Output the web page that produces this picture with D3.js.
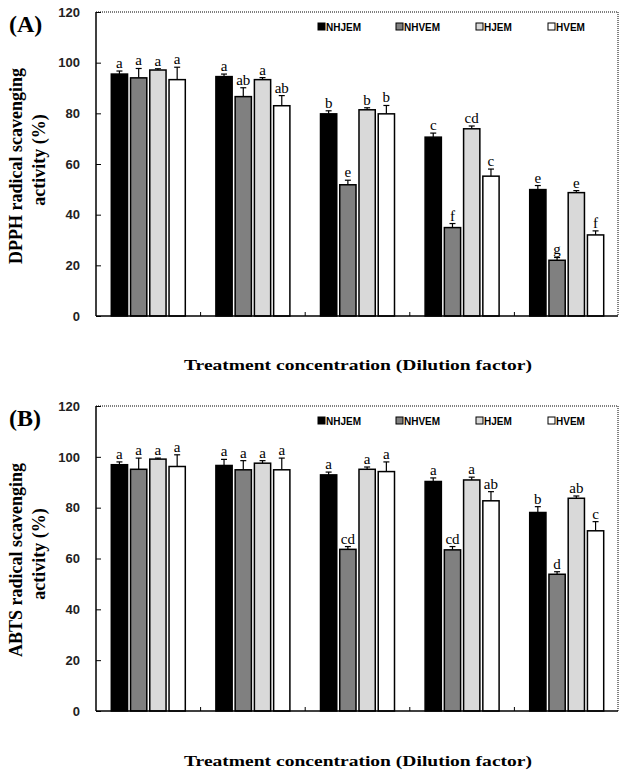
<!DOCTYPE html>
<html>
<head>
<meta charset="utf-8">
<script src="https://cdn.jsdelivr.net/npm/d3@7"></script>
<style>
	body{margin:0;background:#fff;}
	svg{display:block;}
</style>
</head>
<body>
<div id="chart"></div>
<script>
// groups = dilution steps (no tick labels in the figure)
var groups = ["d1","d2","d3","d4","d5"];
var series = ["NHJEM","NHVEM","HJEM","HVEM"];
var fills = ["#000000","#808080","#d9d9d9","#ffffff"];
var yTicks = [0,20,40,60,80,100,120];

// (A) DPPH
var dpphNHJEM = [95.5, 94.5, 79.8, 70.6, 49.9];
var dpphNHVEM = [94.0, 86.6, 51.8, 34.9, 22.0];
var dpphHJEM  = [97.1, 93.3, 81.4, 73.9, 48.7];
var dpphHVEM  = [93.3, 83.0, 79.8, 55.2, 32.0];
var dpphErrNHJEM = [1.2, 1.0, 1.2, 1.6, 1.6];
var dpphErrNHVEM = [3.7, 3.5, 1.8, 1.6, 1.1];
var dpphErrHJEM  = [0.5, 0.8, 0.8, 1.1, 0.8];
var dpphErrHVEM  = [4.9, 4.0, 3.3, 2.8, 1.6];
var dpphLetNHJEM = ["a","a","b","c","e"];
var dpphLetNHVEM = ["a","ab","e","f","g"];
var dpphLetHJEM  = ["a","a","b","cd","e"];
var dpphLetHVEM  = ["a","ab","b","c","f"];

// (B) ABTS
var abtsNHJEM = [96.9, 96.6, 92.9, 90.3, 78.1];
var abtsNHVEM = [95.1, 94.9, 63.6, 63.4, 53.8];
var abtsHJEM  = [99.1, 97.5, 95.1, 90.9, 83.7];
var abtsHVEM  = [96.2, 94.9, 94.2, 82.7, 70.9];
var abtsErrNHJEM = [1.1, 2.4, 1.1, 1.4, 2.3];
var abtsErrNHVEM = [4.4, 3.6, 1.1, 1.3, 1.0];
var abtsErrHJEM  = [0.4, 1.0, 0.9, 1.1, 0.9];
var abtsErrHVEM  = [4.6, 4.6, 3.8, 3.6, 3.6];
var abtsLetNHJEM = ["a","a","a","a","b"];
var abtsLetNHVEM = ["a","a","cd","cd","d"];
var abtsLetHJEM  = ["a","a","a","a","ab"];
var abtsLetHVEM  = ["a","a","a","ab","c"];

var W = 619, H = 773;
var serif = "'Liberation Serif','Times New Roman',serif";
var sans = "'Liberation Sans',Arial,sans-serif";

var svg = d3.select("#chart").append("svg:svg")
	.attr("width",W)
	.attr("height",H);

function panel(opt){
	var g = svg.append("g");
	var left = 96, right = 618, top = opt.top, bottom = opt.bottom;

	var x0 = d3.scaleBand().domain(groups).range([left, 619]);
	var bw = x0.bandwidth();
	var x1 = d3.scaleBand().domain(series)
		.range([bw/2 - 37, bw/2 + 37]).paddingInner(0.155);
	var y = d3.scaleLinear().domain([0,120]).range([bottom, top]);

	// dotted frame (top and right)
	g.append("path")
		.attr("d","M"+left+","+top+"H"+right+"V"+bottom)
		.attr("fill","none").attr("stroke","#000")
		.attr("stroke-width",1).attr("stroke-dasharray","1,1");

	var rows = [];
	series.forEach(function(s,i){
		groups.forEach(function(gr,j){
			rows.push({s:s, i:i, g:gr, v:opt.vals[i][j], e:opt.errs[i][j], l:opt.lets[i][j]});
		});
	});

	var bar = g.selectAll("g.bar").data(rows).enter().append("g").classed("bar",true)
		.attr("transform",function(d){return "translate("+(x0(d.g)+x1(d.s))+",0)";});
	var b = x1.bandwidth();

	bar.append("line")
		.attr("x1",b/2).attr("x2",b/2)
		.attr("y1",function(d){return y(d.v);})
		.attr("y2",function(d){return y(d.v+d.e);})
		.attr("stroke","#000").attr("stroke-width",1.2);
	bar.append("line")
		.attr("x1",b/2-3).attr("x2",b/2+3)
		.attr("y1",function(d){return y(d.v+d.e);})
		.attr("y2",function(d){return y(d.v+d.e);})
		.attr("stroke","#000").attr("stroke-width",1.2);
	bar.append("rect")
		.attr("x",0).attr("width",b)
		.attr("y",function(d){return y(d.v);})
		.attr("height",function(d){return y(0)-y(d.v);})
		.attr("fill",function(d){return fills[d.i];})
		.attr("stroke","#000").attr("stroke-width",1.5);
	bar.append("text")
		.attr("x",b/2)
		.attr("y",function(d){return y(d.v+d.e)-3;})
		.attr("text-anchor","middle")
		.attr("font-family",serif).attr("font-size","15px")
		.text(function(d){return d.l;});

	// y axis
	var ya = g.append("g").attr("transform","translate("+left+",0)")
		.call(d3.axisLeft(y).tickValues(yTicks).tickSize(-5).tickPadding(16));
	ya.select(".domain").attr("stroke-width",1.5).attr("d","M0,"+top+"V"+bottom);
	ya.selectAll("text").attr("font-family",sans).attr("font-weight","bold")
		.attr("font-size","13px").attr("fill","#222");

	// x axis, ticks between groups only
	var xa = g.append("g").attr("transform","translate(0,"+bottom+")")
		.call(d3.axisBottom(x0).tickValues([]).tickSize(0));
	xa.select(".domain").attr("stroke-width",1.5).attr("d","M"+left+",0H"+right);
	xa.selectAll("line.sep").data(groups.slice(1)).enter().append("line")
		.classed("sep",true)
		.attr("x1",function(d){return x0(d);}).attr("x2",function(d){return x0(d);})
		.attr("y1",0).attr("y2",-4).attr("stroke","#000");

	// legend
	var lx = [318, 396, 476, 548];
	var lg = g.selectAll("g.leg").data(series).enter().append("g").classed("leg",true)
		.attr("transform",function(d,i){return "translate("+lx[i]+","+(top+15)+")";});
	lg.append("rect").attr("x",0).attr("y",-4).attr("width",7).attr("height",7)
		.attr("fill",function(d,i){return fills[i];})
		.attr("stroke","#000").attr("stroke-width",1);
	lg.append("text").attr("x",8).attr("y",3.5)
		.attr("font-family",sans).attr("font-weight","bold").attr("font-size","10px")
		.text(function(d){return d;});

	// panel letter
	g.append("text").attr("x",9).attr("y",top+20)
		.attr("font-family",serif).attr("font-weight","bold").attr("font-size","24px")
		.text(opt.tag);

	// y title
	g.append("text").attr("transform","translate(22,"+(top+154)+") rotate(-90)")
		.attr("text-anchor","middle")
		.attr("font-family",serif).attr("font-weight","bold").attr("font-size","18px")
		.text(opt.ytitle1);
	g.append("text").attr("transform","translate(45,"+(top+148)+") rotate(-90)")
		.attr("text-anchor","middle")
		.attr("font-family",serif).attr("font-weight","bold").attr("font-size","18px")
		.text(opt.ytitle2);

	// x title
	g.append("text").attr("x",358).attr("y",opt.xtitleY)
		.attr("text-anchor","middle")
		.attr("font-family",serif).attr("font-weight","bold").attr("font-size","15px")
		.attr("textLength",348).attr("lengthAdjust","spacingAndGlyphs")
		.text("Treatment concentration (Dilution factor)");
}

panel({
	top:12, bottom:316, tag:"(A)",
	vals:[dpphNHJEM,dpphNHVEM,dpphHJEM,dpphHVEM],
	errs:[dpphErrNHJEM,dpphErrNHVEM,dpphErrHJEM,dpphErrHVEM],
	lets:[dpphLetNHJEM,dpphLetNHVEM,dpphLetHJEM,dpphLetHVEM],
	ytitle1:"DPPH radical scavenging", ytitle2:"activity (%)",
	xtitleY:370
});
panel({
	top:406, bottom:711, tag:"(B)",
	vals:[abtsNHJEM,abtsNHVEM,abtsHJEM,abtsHVEM],
	errs:[abtsErrNHJEM,abtsErrNHVEM,abtsErrHJEM,abtsErrHVEM],
	lets:[abtsLetNHJEM,abtsLetNHVEM,abtsLetHJEM,abtsLetHVEM],
	ytitle1:"ABTS radical scavenging", ytitle2:"activity (%)",
	xtitleY:766
});
</script>
</body>
</html>
